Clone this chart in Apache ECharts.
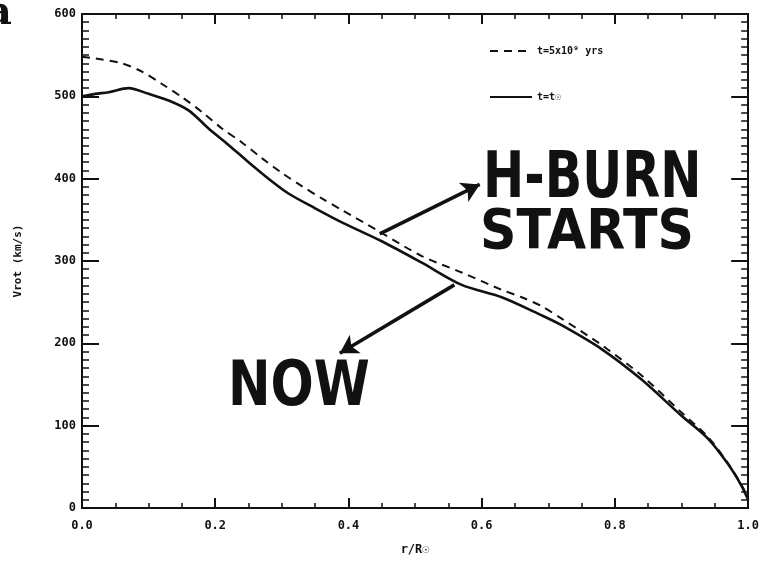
<!DOCTYPE html>
<html><head><meta charset="utf-8">
<script src="https://cdn.jsdelivr.net/npm/echarts@6/dist/echarts.min.js"></script>
<style>html,body{margin:0;padding:0;background:#fff}#c{width:762px;height:568px}</style>
</head><body><div id="c"></div>
<script>
// Data
const radiusNow = [0.00,0.02,0.04,0.07,0.10,0.13,0.16,0.19,0.22,0.25,0.28,0.31,0.35,0.39,0.45,0.51,0.57,0.63,0.69,0.72,0.78,0.84,0.90,0.94,0.97,0.99,1.00];
const velocityNow = [500,503,505,510,503,495,483,461,441,420,400,382,364,347,324,298,271,256,234,222,193,156,112,84,53,27,10];
const radiusZams = [0.00,0.02,0.06,0.09,0.12,0.15,0.18,0.21,0.24,0.27,0.30,0.33,0.36,0.39,0.45,0.51,0.57,0.63,0.66,0.69,0.72,0.78,0.84,0.90,0.94,0.97,0.99,1.00];
const velocityZams = [548,546,540,530,515,499,481,461,444,425,407,391,376,362,334,306,286,265,256,245,230,198,161,116,86,54,28,12];
const xTicks = [0.0,0.2,0.4,0.6,0.8,1.0];
const yTicks = [0,100,200,300,400,500,600];
const seriesNames = ['t=5x10\u2079 yrs','t=t\u2609'];
const arrowUp = [[0.447,333],[0.597,393]];
const arrowDown = [[0.559,271],[0.387,188]];
const noteBurn = ['H-BURN','STARTS'];
const noteNow = 'NOW';

const zip = (a,b)=>a.map((v,i)=>[v,b[i]]);
const lblFont = {fontFamily:'DejaVu Sans Mono',fontWeight:'bold',fontSize:12,color:'#111'};
function xAx(pos, show){
  return {type:'value',min:xTicks[0],max:xTicks[xTicks.length-1],interval:0.2,position:pos,
    axisLine:{show:true,onZero:false,lineStyle:{color:'#111',width:2}},
    axisTick:{show:true,inside:true,length:10,lineStyle:{color:'#111',width:2}},
    minorTick:{show:true,splitNumber:4,length:5,lineStyle:{color:'#111',width:1.5}},
    splitLine:{show:false},
    axisLabel:{show:show,margin:12,formatter:v=>v.toFixed(1),...lblFont},
    name: show? 'r/R\u2609' : '', nameLocation:'middle', nameGap:36,
    nameTextStyle:{fontFamily:'DejaVu Sans Mono',fontWeight:'bold',fontSize:12,color:'#111'}};
}
function yAx(pos, show){
  return {type:'value',min:yTicks[0],max:yTicks[yTicks.length-1],interval:100,position:pos,
    axisLine:{show:true,onZero:false,lineStyle:{color:'#111',width:2}},
    axisTick:{show:true,inside:true,length:17,lineStyle:{color:'#111',width:2}},
    minorTick:{show:true,splitNumber:10,length:7,lineStyle:{color:'#111',width:1.5}},
    splitLine:{show:false},
    axisLabel:{show:show,margin:6,...lblFont},
    name: show? 'Vrot (km/s)' : '', nameLocation:'middle', nameGap:58, nameRotate:90,
    nameTextStyle:{fontFamily:'DejaVu Sans Mono',fontWeight:'bold',fontSize:11,color:'#111'}};
}
const chart = echarts.init(document.getElementById('c'));
chart.setOption({
  animation:false,
  backgroundColor:'#fff',
  grid:{left:82,right:13,top:14,bottom:60},
  xAxis:[xAx('bottom',true), xAx('top',false)],
  yAxis:[yAx('left',true), yAx('right',false)],
  legend:{
    show:true, orient:'vertical', left:484, top:41, itemGap:36, itemWidth:42, itemHeight:12,
    itemStyle:{color:'rgba(0,0,0,0)',borderColor:'rgba(0,0,0,0)',borderWidth:0},
    textStyle:{fontFamily:'DejaVu Sans Mono',fontWeight:'bold',fontSize:10,color:'#111'},
    data:seriesNames
  },
  series:[
    {name:seriesNames[0],type:'line',data:zip(radiusZams,velocityZams),symbol:'none',smooth:0.3,
     lineStyle:{color:'#111',width:2,type:[8,6]},itemStyle:{color:'#111'}},
    {name:seriesNames[1],type:'line',data:zip(radiusNow,velocityNow),symbol:'none',smooth:0.3,
     lineStyle:{color:'#111',width:2.6},itemStyle:{color:'#111'},
     markLine:{silent:true,symbol:['none','arrow'],symbolSize:[16,18],label:{show:false},
       lineStyle:{color:'#111',width:3.5,type:'solid'},
       data:[[{coord:arrowUp[0]},{coord:arrowUp[1]}],[{coord:arrowDown[0]},{coord:arrowDown[1]}]]}}
  ],
  graphic:[
    {type:'text',x:483,y:148,scaleX:0.77,style:{text:noteBurn[0],font:'bold 64px "DejaVu Sans"',fill:'#111',verticalAlign:'top'}},
    {type:'text',x:480,y:206,scaleX:0.92,style:{text:noteBurn[1],font:'bold 55px "DejaVu Sans"',fill:'#111',verticalAlign:'top'}},
    {type:'text',x:228,y:358,scaleX:0.82,style:{text:noteNow,font:'bold 62px "DejaVu Sans"',fill:'#111',verticalAlign:'top'}},
    {type:'text',left:-14,top:-6,style:{text:'a',font:'bold 40px "DejaVu Serif"',fill:'#111'}}
  ]
});
</script></body></html>
